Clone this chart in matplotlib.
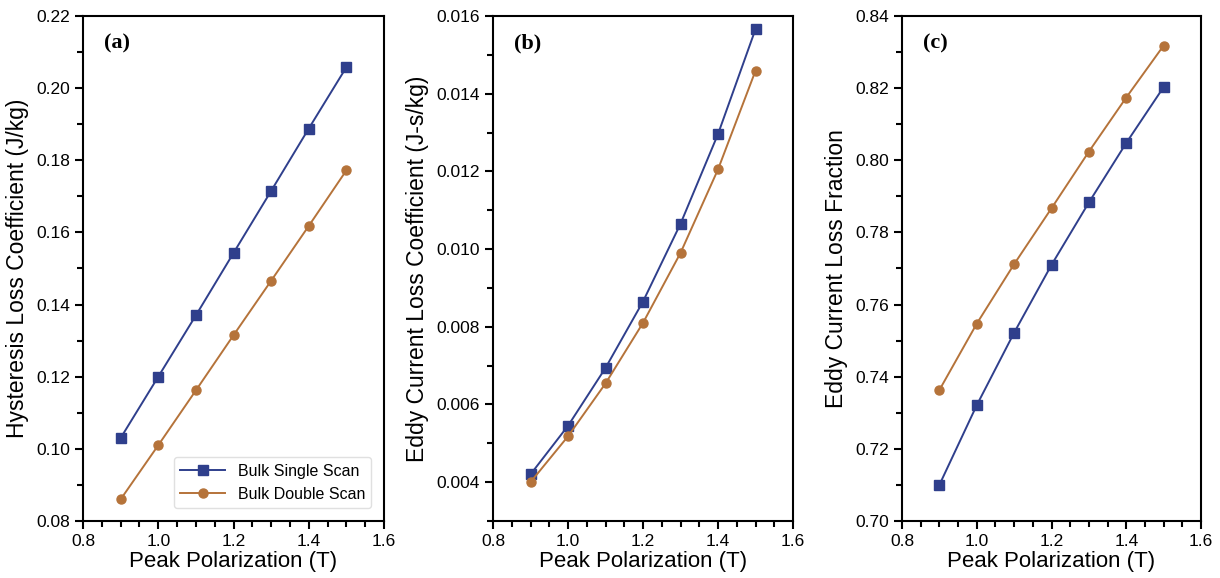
import matplotlib
matplotlib.use("Agg")
import matplotlib.pyplot as plt
from matplotlib.ticker import MultipleLocator, FormatStrFormatter

plt.rcParams['font.family'] = ['Liberation Sans', 'DejaVu Sans']

polarization = [0.9, 1.0, 1.1, 1.2, 1.3, 1.4, 1.5]
series_names = ["Bulk Single Scan", "Bulk Double Scan"]

hyst_single = [0.103, 0.120, 0.137, 0.1543, 0.1715, 0.1888, 0.2058]
hyst_double = [0.086, 0.101, 0.1162, 0.1315, 0.1466, 0.1618, 0.1772]

eddy_single = [0.0042, 0.00545, 0.00694, 0.00865, 0.01065, 0.01296, 0.01566]
eddy_double = [0.0040, 0.00518, 0.00654, 0.0081, 0.0099, 0.01205, 0.01459]

frac_single = [0.710, 0.7321, 0.7522, 0.7710, 0.7883, 0.8048, 0.8203]
frac_double = [0.7363, 0.7547, 0.7712, 0.7867, 0.8024, 0.8174, 0.8318]

panel_labels = ["(a)", "(b)", "(c)"]
ylabels = ["Hysteresis Loss Coefficient (J/kg)",
           "Eddy Current Loss Coefficient (J-s/kg)",
           "Eddy Current Loss Fraction"]
xlabel = "Peak Polarization (T)"

blue = "#2f3f8c"
orange = "#b5733a"

fig = plt.figure(figsize=(12.2, 5.78), dpi=100)
W, H = 1220, 578
boxes = [(83, 384), (493, 793), (902, 1201)]
top, bottom = 16, 521

data = [(hyst_single, hyst_double), (eddy_single, eddy_double), (frac_single, frac_double)]
ylims = [(0.08, 0.22), (0.003, 0.016), (0.70, 0.84)]
ymajor = [0.02, 0.002, 0.02]
yminor = [0.01, 0.001, 0.01]
yfmt = ["%.2f", "%.3f", "%.2f"]

for i, ((l, r), (s, d)) in enumerate(zip(boxes, data)):
    ax = fig.add_axes([l / W, 1 - bottom / H, (r - l) / W, (bottom - top) / H])
    ax.plot(polarization, s, color=blue, marker="s", markersize=6.5, lw=1.4,
            label=series_names[0], markeredgecolor=blue)
    ax.plot(polarization, d, color=orange, marker="o", markersize=6.5, lw=1.4,
            label=series_names[1], markeredgecolor=orange)
    ax.set_xlim(0.8, 1.6)
    ax.set_ylim(*ylims[i])
    ax.xaxis.set_major_locator(MultipleLocator(0.2))
    ax.xaxis.set_minor_locator(MultipleLocator(0.05))
    ax.yaxis.set_major_locator(MultipleLocator(ymajor[i]))
    ax.yaxis.set_minor_locator(MultipleLocator(yminor[i]))
    ax.xaxis.set_major_formatter(FormatStrFormatter("%.1f"))
    ax.yaxis.set_major_formatter(FormatStrFormatter(yfmt[i]))
    ax.tick_params(which="both", direction="out", top=False, right=False,
                   labelsize=12.5, width=1.5)
    ax.tick_params(which="major", length=6)
    ax.tick_params(which="minor", length=4)
    for sp in ax.spines.values():
        sp.set_linewidth(1.5)
    ax.set_xlabel(xlabel, fontsize=16, labelpad=1)
    ax.set_ylabel(ylabels[i], fontsize=16.5, labelpad=5)
    ax.text(0.07, 0.965, panel_labels[i], transform=ax.transAxes,
            fontsize=16, fontweight="bold", family="Liberation Serif",
            va="top", ha="left")
    if i == 0:
        ax.legend(loc="lower right", fontsize=11.5, frameon=True,
                  fancybox=True, framealpha=1, edgecolor="#e0e0e0",
                  bbox_to_anchor=(0.985, 0.01), handlelength=2.8)

fig.savefig("out.png", dpi=100)
